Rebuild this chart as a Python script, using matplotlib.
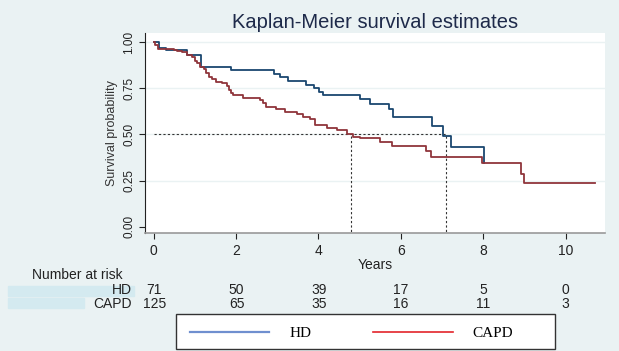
import matplotlib

matplotlib.use("Agg")
import matplotlib.pyplot as plt
from matplotlib.lines import Line2D
from matplotlib.patches import Rectangle

plt.rcParams["font.family"] = ["Liberation Sans", "DejaVu Sans"]

# Kaplan-Meier step values (time in years, survival)
hd_t = [0, 0.12, 0.29, 0.82, 1.14, 1.88, 2.92, 3.06, 3.27, 3.70, 3.88, 4.02,
        4.10, 5.00, 5.24, 5.70, 5.82, 6.75, 7.02, 7.22, 8.02]
hd_s = [1.0, 0.97, 0.955, 0.93, 0.865, 0.85, 0.83, 0.81, 0.79, 0.77, 0.75,
        0.73, 0.714, 0.69, 0.665, 0.636, 0.596, 0.547, 0.49, 0.43, 0.346]

capd_t = [0, 0.04, 0.10, 0.49, 0.57, 0.69, 0.82, 0.94, 1.00, 1.06, 1.13, 1.21,
          1.28, 1.35, 1.41, 1.51, 1.67, 1.78, 1.84, 1.88, 1.93, 2.16, 2.57,
          2.65, 2.73, 2.98, 3.18, 3.47, 3.63, 3.80, 3.92, 4.20, 4.45, 4.70,
          4.84, 5.00, 5.50, 5.78, 6.60, 6.74, 7.97, 8.91, 8.99, 10.72]
capd_s = [1.0, 0.985, 0.965, 0.958, 0.95, 0.945, 0.93, 0.92, 0.90, 0.886,
          0.864, 0.853, 0.835, 0.813, 0.80, 0.786, 0.777, 0.763, 0.741, 0.726,
          0.714, 0.70, 0.687, 0.67, 0.647, 0.636, 0.623, 0.609, 0.592, 0.582,
          0.55, 0.536, 0.524, 0.50, 0.487, 0.478, 0.46, 0.438, 0.41, 0.379,
          0.346, 0.288, 0.236, 0.236]

medians = [4.8, 7.1]
risk_times = [0, 2, 4, 6, 8, 10]
risk_hd = [71, 50, 39, 17, 5, 0]
risk_capd = [125, 65, 35, 16, 11, 3]

BG = "#eaf2f3"
HD_COL = "#1a476f"
CAPD_COL = "#90353b"
TXT = "#222222"

W, H = 619, 351


def fx(px):
    return px / W


def fy(py):
    return 1 - py / H


fig = plt.figure(figsize=(6.19, 3.51), dpi=100, facecolor=BG)
ax = fig.add_axes([0.2343, 0.3353, 0.7431, 0.5698])
ax.set_facecolor("white")

for y in [0.25, 0.5, 0.75, 1.0]:
    ax.axhline(y, color=BG, lw=1.0, zorder=0)

ax.step(hd_t, hd_s, where="post", color=HD_COL, lw=1.3, zorder=3)
ax.step(capd_t, capd_s, where="post", color=CAPD_COL, lw=1.3, zorder=3)

# median survival reference lines
ax.plot([0, max(medians)], [0.5, 0.5], color="#333333", ls=(0, (2, 2)), lw=0.8)
for m in medians:
    ax.plot([m, m], [-0.05, 0.5], color="#333333", ls=(0, (2, 2)), lw=0.8)

ax.set_xlim(-0.21, 10.955)
ax.set_ylim(-0.036, 1.048)
ax.set_xticks(risk_times)
ax.set_yticks([0, 0.25, 0.5, 0.75, 1.0])
ax.set_yticklabels(["0.00", "0.25", "0.50", "0.75", "1.00"], rotation=90,
                   va="center")
ax.tick_params(axis="x", labelsize=10, colors=TXT, length=4, width=0.8, pad=4)
ax.tick_params(axis="y", labelsize=8.5, colors=TXT, length=4, width=0.8,
               pad=3)
for s in ["top", "right"]:
    ax.spines[s].set_visible(False)
ax.spines["left"].set_color(TXT)
ax.spines["bottom"].set_color("#999999")
ax.spines["bottom"].set_linewidth(1.2)

ax.set_ylabel("Survival probability", fontsize=9, color="#333333", labelpad=4)
ax.set_title("Kaplan-Meier survival estimates", fontsize=14.5,
             color="#1e2a4a", pad=4)
ax.set_xlabel("Years", fontsize=10, color=TXT, labelpad=0)

# number at risk table
fig.patches.append(Rectangle((fx(8), fy(296)), fx(126), 10 / H,
                             transform=fig.transFigure, color="#d4eaf0",
                             zorder=0))
fig.patches.append(Rectangle((fx(8), fy(308)), fx(76), 10 / H,
                             transform=fig.transFigure, color="#d4eaf0",
                             zorder=0))
fig.text(fx(32), fy(275), "Number at risk", fontsize=10, va="center",
         ha="left", color=TXT)
fig.text(fx(132), fy(290), "HD", fontsize=10, va="center", ha="right",
         color=TXT)
fig.text(fx(132), fy(304), "CAPD", fontsize=10, va="center", ha="right",
         color=TXT)
for t, a, b in zip(risk_times, risk_hd, risk_capd):
    x = fx(154.3 + t * 41.14)
    fig.text(x, fy(290), str(a), fontsize=10, ha="center", va="center",
             color=TXT)
    fig.text(x, fy(304), str(b), fontsize=10, ha="center", va="center",
             color=TXT)

# legend box
fig.patches.append(Rectangle((fx(176), fy(349)), fx(379), 35 / H,
                             transform=fig.transFigure, facecolor="white",
                             edgecolor="#333333", lw=1.0, zorder=1))
handles = [Line2D([], [], color="#6f8fcf", lw=1.6),
           Line2D([], [], color="#e3242b", lw=1.2)]
leg = fig.legend(handles, ["HD", "CAPD"], ncol=2, loc="center left",
                 bbox_to_anchor=(fx(190), fy(333)), frameon=False,
                 borderpad=0, borderaxespad=0, handlelength=5.2,
                 handletextpad=1.3, columnspacing=4.05,
                 prop={"family": "Liberation Serif", "size": 11})

fig.savefig("out.png", dpi=100, facecolor=BG)
